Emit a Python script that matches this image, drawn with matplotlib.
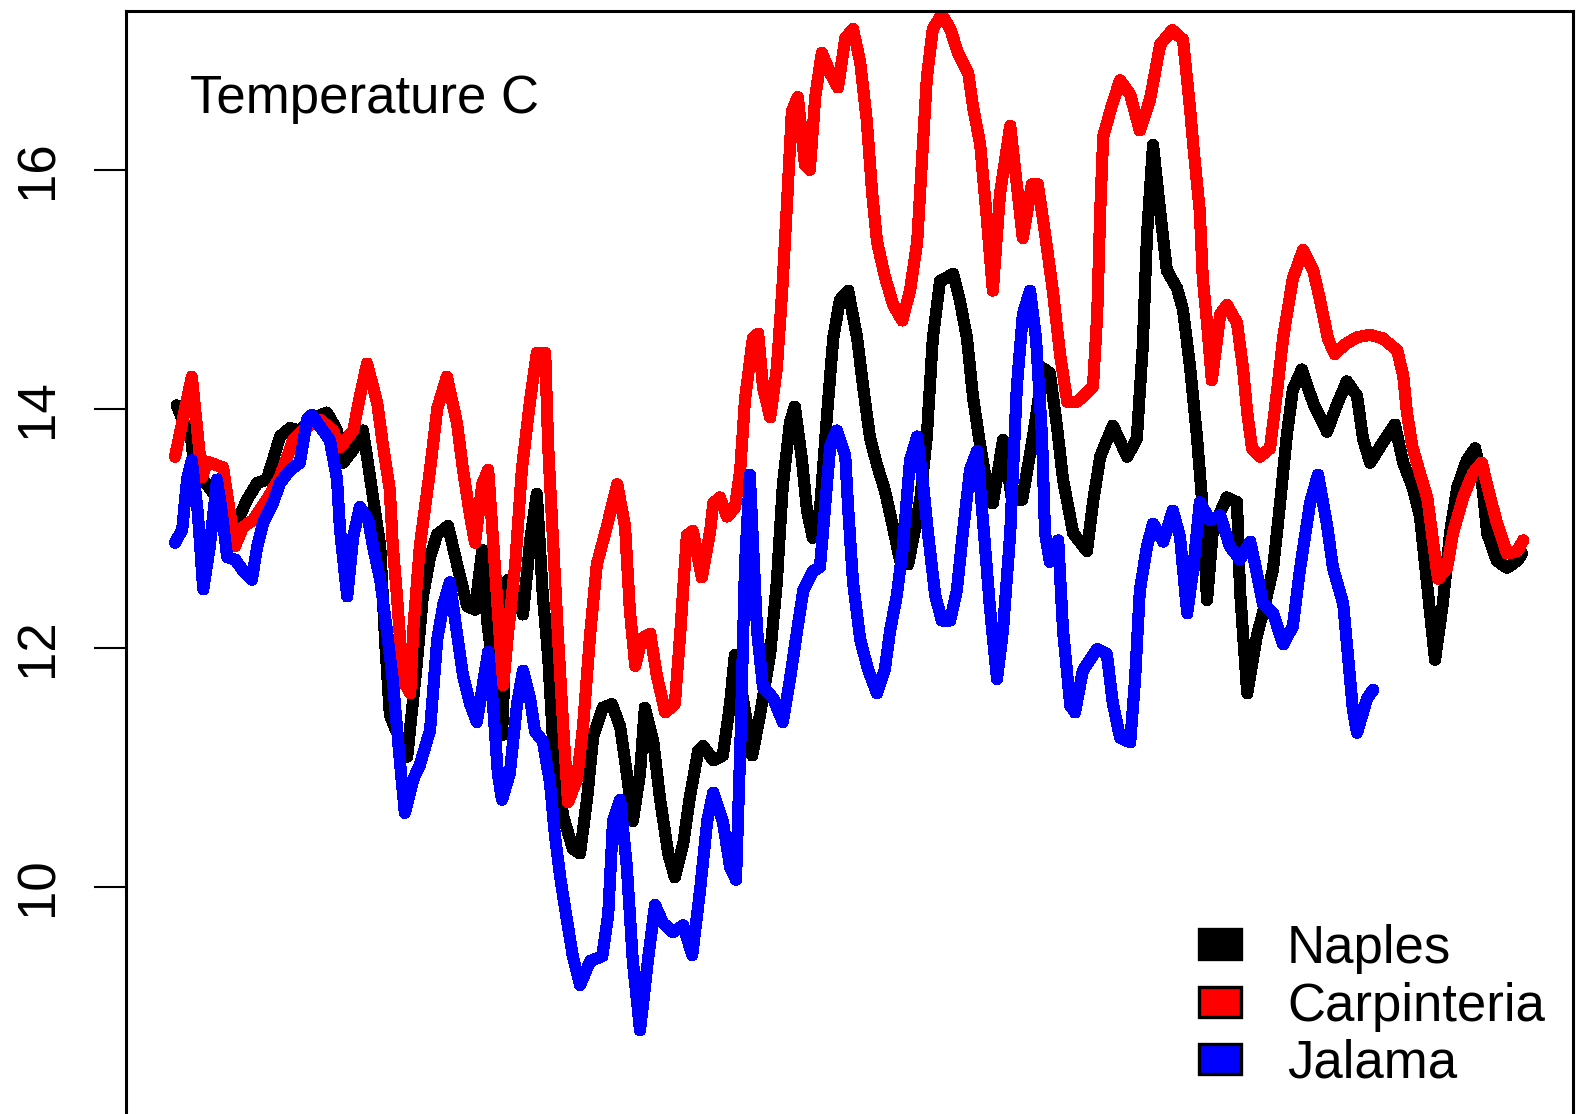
import matplotlib
matplotlib.use("Agg")
import matplotlib.pyplot as plt
from matplotlib.patches import Rectangle

# data: day index and temperature (C)
naples_day = [0.3, 2.8, 3.3, 5.0, 7.8, 10.3, 12.0, 13.7, 15.3, 16.3, 17.5, 19.2, 20.8, 22.5, 25.3, 27.0,
              28.0, 29.7, 31.3, 32.0, 33.0, 34.2, 35.0, 35.8, 37.5, 38.7, 40.3, 41.3, 42.5, 43.7, 45.5, 47.0,
              48.7, 50.0, 51.2, 52.0, 53.0, 54.5, 55.5, 56.7, 58.0, 59.2, 60.3, 61.3, 62.2, 63.0, 64.7, 66.3,
              67.5, 68.7, 69.7, 71.3, 72.8, 74.2, 75.3, 76.3, 77.5, 78.3, 79.7, 80.8, 82.2, 83.3, 84.7, 85.8,
              87.2, 88.0, 89.7, 91.3, 92.5, 93.3, 94.7, 96.2, 97.5, 99.2, 100.3, 101.3, 102.5, 103.3, 104.5,
              105.3, 106.3, 107.5, 108.7, 109.7, 110.8, 112.2, 113.7, 114.7, 115.8, 117.0, 118.3, 119.5, 120.8,
              122.2, 123.3, 124.2, 125.3, 126.3, 127.5, 129.7, 130.8, 132.0, 133.0, 134.2, 135.3, 136.3, 138.0,
              139.5, 141.2, 143.0, 144.7, 145.8, 147.0, 148.0, 149.7, 152.0, 153.0, 154.2, 156.3, 158.7, 160.3,
              161.3, 162.0, 163.0, 164.2, 165.3, 167.0, 168.0, 169.2, 170.3, 171.2, 172.0, 173.0, 175.3, 177.0,
              177.5, 178.7, 180.3, 181.3, 183.0, 184.2, 185.3, 186.3, 187.8, 189.7, 192.0, 193.7, 195.3, 197.0,
              198.0, 199.2, 201.3, 203.3, 204.7, 206.3, 207.5, 208.7, 210.0, 211.3, 212.5, 213.7, 215.3, 216.7,
              217.8, 218.7, 220.3, 222.0, 223.7, 224.5]
naples_temp = [14.03, 13.72, 13.41, 13.39, 13.20, 13.05, 13.24, 13.38, 13.41, 13.57, 13.77, 13.84, 13.82, 13.91,
               13.97, 13.82, 13.55, 13.66, 13.82, 13.60, 13.26, 12.85, 12.07, 11.44, 11.23, 11.09, 11.87, 12.43,
               12.76, 12.95, 13.02, 12.70, 12.35, 12.32, 12.82, 12.23, 11.85, 11.27, 12.57, 12.49, 12.28, 12.90,
               13.29, 12.44, 11.92, 11.22, 10.59, 10.32, 10.28, 10.75, 11.26, 11.50, 11.53, 11.34, 10.95, 10.55,
               10.95, 11.50, 11.22, 10.75, 10.28, 10.08, 10.36, 10.75, 11.14, 11.18, 11.06, 11.10, 11.53, 11.94,
               11.56, 11.10, 11.44, 11.95, 12.55, 13.36, 13.89, 14.02, 13.57, 13.16, 12.92, 13.16, 13.97, 14.59,
               14.91, 14.99, 14.59, 14.18, 13.77, 13.53, 13.32, 13.05, 12.74, 12.70, 12.99, 13.24, 13.77, 14.59,
               15.07, 15.13, 14.91, 14.59, 14.10, 13.69, 13.36, 13.21, 13.74, 13.24, 13.24, 13.77, 14.34, 14.30,
               13.85, 13.41, 12.96, 12.81, 13.22, 13.60, 13.86, 13.60, 13.75, 14.53, 15.46, 16.21, 15.65, 15.16,
               15.01, 14.83, 14.34, 13.78, 13.22, 12.40, 13.00, 13.26, 13.22, 12.48, 11.62, 12.10, 12.29, 12.66,
               13.22, 13.78, 14.16, 14.33, 14.05, 13.81, 14.04, 14.23, 14.11, 13.75, 13.55, 13.72, 13.87, 13.55,
               13.34, 13.10, 12.52, 11.90, 12.37, 12.96, 13.34, 13.57, 13.67, 13.40, 12.96, 12.73, 12.67, 12.73,
               12.79]

carp_day = [0.0, 2.8, 4.5, 5.3, 8.0, 10.0, 11.3, 13.0, 15.3, 17.5, 19.7, 22.0, 24.2, 26.3, 27.5, 29.7, 30.8,
            32.0, 33.7, 34.7, 35.8, 36.3, 37.0, 38.0, 39.2, 39.7, 40.8, 42.5, 43.7, 45.3, 47.0, 48.0, 49.2,
            50.0, 51.2, 52.2, 53.0, 53.8, 54.7, 55.5, 56.7, 57.8, 59.2, 60.3, 61.7, 62.2, 63.0, 63.8, 64.7,
            65.5, 67.0, 68.0, 69.2, 70.3, 72.0, 73.7, 75.0, 75.8, 76.7, 77.8, 79.2, 80.3, 81.7, 83.3, 84.2,
            85.3, 86.3, 87.8, 89.2, 89.7, 90.8, 92.0, 93.3, 94.2, 95.0, 96.3, 97.2, 98.0, 99.2, 100.3, 101.2,
            102.0, 102.8, 103.8, 105.0, 105.8, 106.7, 107.8, 109.2, 110.5, 111.7, 113.0, 114.2, 115.3, 116.2,
            117.0, 118.3, 119.7, 121.2, 122.5, 123.7, 124.5, 125.3, 126.3, 127.8, 129.2, 130.5, 132.2, 133.0,
            134.2, 135.3, 136.3, 137.5, 139.2, 140.3, 141.3, 142.8, 143.8, 145.0, 146.3, 147.5, 148.7, 150.3,
            151.3, 153.0, 153.7, 154.2, 154.7, 156.2, 157.5, 159.2, 160.8, 162.5, 164.2, 166.2, 168.0, 169.2,
            169.7, 170.8, 171.3, 172.0, 172.8, 174.2, 175.3, 177.0, 178.0, 178.7, 179.5, 180.8, 182.5, 183.7,
            184.7, 186.3, 188.0, 189.7, 190.8, 192.2, 193.3, 195.0, 197.0, 199.2, 201.3, 203.7, 204.7, 205.3,
            206.2, 207.5, 208.7, 209.5, 210.5, 212.0, 213.0, 214.7, 216.3, 217.8, 218.8, 220.3, 222.0, 223.7,
            224.7]
carp_temp = [13.60, 14.27, 13.43, 13.56, 13.51, 12.85, 13.01, 13.07, 13.24, 13.43, 13.74, 13.85, 13.91, 13.82,
             13.68, 13.82, 14.10, 14.38, 14.05, 13.68, 13.32, 12.85, 12.43, 11.73, 11.62, 12.15, 12.85, 13.49,
             14.00, 14.27, 13.88, 13.49, 13.10, 12.88, 13.37, 13.49, 12.90, 12.32, 11.69, 12.12, 12.70, 13.49,
             14.08, 14.47, 14.47, 13.68, 12.90, 12.12, 11.34, 10.71, 10.90, 11.34, 12.12, 12.70, 13.02, 13.37,
             13.02, 12.32, 11.85, 12.08, 12.12, 11.77, 11.46, 11.53, 12.12, 12.94, 12.98, 12.59, 12.98, 13.21,
             13.26, 13.10, 13.17, 13.49, 14.08, 14.59, 14.63, 14.18, 13.93, 14.34, 14.99, 15.72, 16.49, 16.61,
             16.04, 16.00, 16.61, 16.98, 16.81, 16.69, 17.10, 17.18, 16.90, 16.41, 15.80, 15.40, 15.11, 14.87,
             14.74, 14.99, 15.40, 16.08, 16.77, 17.18, 17.30, 17.18, 16.98, 16.81, 16.53, 16.21, 15.60, 14.99,
             15.80, 16.37, 15.88, 15.43, 15.88, 15.88, 15.47, 14.99, 14.46, 14.06, 14.06, 14.10, 14.19, 14.79,
             15.65, 16.28, 16.55, 16.75, 16.63, 16.33, 16.59, 17.05, 17.17, 17.09, 16.50, 16.21, 15.65, 15.09,
             14.72, 14.24, 14.79, 14.87, 14.72, 14.34, 13.97, 13.67, 13.60, 13.67, 14.16, 14.60, 15.09, 15.33,
             15.16, 14.92, 14.58, 14.46, 14.54, 14.60, 14.62, 14.59, 14.49, 14.28, 13.98, 13.69, 13.46, 13.26,
             12.96, 12.58, 12.67, 12.96, 13.26, 13.46, 13.55, 13.34, 13.05, 12.79, 12.81, 12.90]

jal_day = [0.0, 1.2, 2.0, 2.8, 3.8, 4.7, 5.8, 7.0, 7.8, 8.7, 10.0, 11.3, 12.8, 13.7, 14.7, 16.3, 17.5, 19.2,
           20.8, 22.0, 22.8, 24.2, 25.8, 27.0, 27.5, 28.7, 29.7, 30.8, 32.2, 33.0, 34.2, 35.3, 36.3, 37.5,
           38.3, 39.7, 40.8, 42.5, 43.7, 44.7, 45.8, 47.0, 48.0, 49.2, 50.3, 51.3, 52.2, 53.0, 53.8, 54.5,
           55.8, 57.0, 58.0, 59.2, 60.0, 61.3, 62.5, 63.3, 64.2, 65.3, 66.3, 67.5, 69.2, 71.2, 72.2, 73.0,
           74.2, 75.3, 76.3, 77.5, 78.8, 80.0, 81.3, 83.0, 84.7, 86.2, 87.5, 88.7, 89.7, 91.3, 92.5, 93.5,
           94.2, 95.0, 95.8, 97.0, 98.0, 99.7, 101.3, 102.5, 103.7, 104.7, 106.3, 107.5, 108.3, 109.2, 110.3,
           111.7, 112.2, 113.0, 114.2, 115.5, 117.0, 118.3, 119.2, 120.3, 121.3, 122.5, 123.7, 124.7, 125.5,
           126.7, 127.8, 129.2, 130.3, 131.3, 132.5, 133.7, 134.7, 135.8, 137.0, 138.0, 139.2, 140.3, 141.3,
           142.5, 143.5, 144.5, 145.0, 145.8, 147.2, 148.0, 149.2, 150.0, 151.3, 153.7, 155.3, 156.3, 157.5,
           159.2, 160.0, 160.8, 162.0, 163.0, 164.7, 166.3, 167.5, 168.7, 169.7, 170.8, 172.5, 174.2, 175.8,
           177.5, 179.2, 180.3, 181.3, 183.0, 184.7, 186.3, 187.5, 189.2, 190.5, 192.0, 193.0, 194.7, 195.5,
           196.3, 197.0, 198.7, 199.7]
jal_temp = [12.88, 12.99, 13.41, 13.57, 13.13, 12.49, 12.85, 13.41, 13.13, 12.76, 12.74, 12.65, 12.57, 12.85,
            13.05, 13.21, 13.38, 13.49, 13.55, 13.91, 13.95, 13.85, 13.74, 13.41, 12.99, 12.43, 12.93, 13.18,
            13.07, 12.85, 12.57, 12.15, 11.73, 11.04, 10.62, 10.90, 11.02, 11.31, 12.07, 12.36, 12.55, 12.12,
            11.77, 11.53, 11.38, 11.69, 11.97, 11.53, 10.95, 10.73, 10.95, 11.53, 11.81, 11.57, 11.30, 11.22,
            10.87, 10.44, 10.08, 9.73, 9.42, 9.18, 9.38, 9.42, 9.77, 10.55, 10.73, 10.17, 9.38, 8.80, 9.38,
            9.85, 9.70, 9.62, 9.68, 9.43, 9.97, 10.55, 10.79, 10.55, 10.17, 10.06, 11.14, 12.70, 13.45, 12.15,
            11.67, 11.58, 11.38, 11.74, 12.15, 12.48, 12.64, 12.68, 13.16, 13.69, 13.82, 13.61, 13.16, 12.55,
            12.07, 11.82, 11.62, 11.82, 12.15, 12.44, 12.84, 13.57, 13.77, 13.36, 12.96, 12.44, 12.23, 12.23,
            12.48, 12.96, 13.49, 13.65, 13.04, 12.35, 11.74, 12.15, 12.96, 14.18, 14.79, 14.99, 14.59, 13.77,
            12.96, 12.72, 12.90, 12.15, 11.52, 11.46, 11.81, 11.99, 11.95, 11.54, 11.25, 11.21, 11.73, 12.48,
            12.85, 13.04, 12.89, 13.15, 12.93, 12.29, 12.66, 13.22, 13.07, 13.11, 12.85, 12.74, 12.89, 12.63,
            12.37, 12.29, 12.03, 12.18, 12.66, 13.22, 13.45, 13.03, 12.67, 12.37, 11.93, 11.49, 11.29, 11.58,
            11.65]

sites = ["Naples", "Carpinteria", "Jalama"]
colors = ["black", "red", "blue"]
yticks = [10, 12, 14, 16]

W, H = 1576, 1114
plt.rcParams["font.family"] = ["Liberation Sans", "DejaVu Sans"]
fig = plt.figure(figsize=(W / 100, H / 100), dpi=100)
ax = fig.add_axes([126 / W, 0, (1573 - 126) / W, 1 - 11 / H])

for d, t, c in zip([naples_day, carp_day, jal_day], [naples_temp, carp_temp, jal_temp], colors):
    ax.plot(d, t, color=c, lw=8, solid_joinstyle="round", solid_capstyle="round", antialiased=False)

ax.set_xlim(-8.17, 233.0)
ax.set_ylim(8.10, 17.33)
ax.set_yticks(yticks)
ax.set_yticklabels([str(v) for v in yticks], rotation=90, va="center", fontsize=38)
ax.tick_params(axis="y", length=23, width=1.5, pad=22)
ax.set_xticks([])
ax.spines["bottom"].set_visible(False)
for s in ["left", "top", "right"]:
    ax.spines[s].set_linewidth(2.2)

fig.text(190 / W, 1 - 113 / H, "Temperature C", fontsize=38, va="baseline", ha="left")

# legend, no box, filled squares like R's legend(fill=...)
for i, (name, c) in enumerate(zip(sites, colors)):
    yc = 944 + i * 57.5
    fig.patches.append(Rectangle((1199 / W, 1 - (yc + 15) / H), 42 / W, 30 / H,
                                 transform=fig.transFigure, facecolor=c, edgecolor="black", lw=2.4))
    fig.text(1287 / W, 1 - (yc + 19) / H, name, fontsize=38, va="baseline", ha="left")

fig.savefig("out.png", dpi=100)
